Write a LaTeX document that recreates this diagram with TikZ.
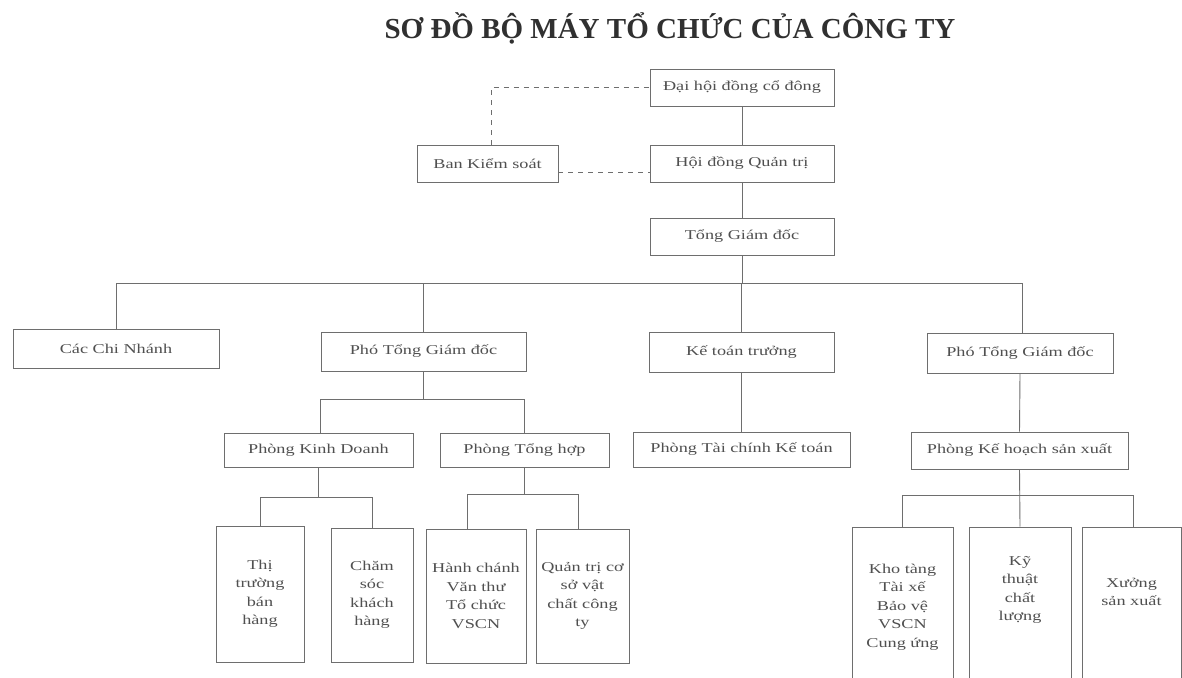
\documentclass[tikz,border=0pt]{standalone}
\usepackage{fontspec}
\setmainfont{Liberation Serif}
\newfontfamily\boxfont[FakeStretch=1.35]{Liberation Serif}
\definecolor{linec}{HTML}{6E6E6E}
\definecolor{textc}{HTML}{505050}
\definecolor{titlec}{HTML}{303030}
\begin{document}
\begin{tikzpicture}[x=1pt,y=-1pt,
  txt/.style={inner sep=0pt, align=center, text=textc, font=\boxfont\fontsize{13.5}{18.5}\selectfont},
  box/.style={txt, draw=linec, line width=0.9pt},
  conn/.style={draw=linec, line width=0.9pt},
  dconn/.style={conn, dash pattern=on 5pt off 5pt}]
\fill[white] (0,0) rectangle (1182,677);
\clip (0,0) rectangle (1182,677);

% title
\node[text=titlec, font=\bfseries\fontsize{29}{34}\selectfont, inner sep=0pt] (title) at (670,28) {SƠ ĐỒ BỘ MÁY TỔ CHỨC CỦA CÔNG TY};

% top levels
\node[box, minimum width=184pt, minimum height=37pt] (dhcd) at (742,87.5) {Đại hội đồng cổ đông};
\node[box, minimum width=184pt, minimum height=37pt] (hdqt) at (742,163.5) {Hội đồng Quản trị};
\node[box, minimum width=141pt, minimum height=37pt] (bks) at (487.5,163.5) {Ban Kiểm soát};
\node[box, minimum width=184pt, minimum height=37pt] (tgd) at (742,236.5) {Tổng Giám đốc};

% second level
\node[box, minimum width=206pt, minimum height=39pt] (ccn) at (116,348.5) {Các Chi Nhánh};
\node[box, minimum width=205pt, minimum height=39pt] (ptgd1) at (423.5,351.5) {Phó Tổng Giám đốc};
\node[box, minimum width=185pt, minimum height=40pt] (ktt) at (741.5,352) {Kế toán trưởng};
\node[box, minimum width=186pt, minimum height=40pt] (ptgd2) at (1020,353) {Phó Tổng Giám đốc};

% third level
\node[box, minimum width=189pt, minimum height=34pt] (pkd) at (318.5,450) {Phòng Kinh Doanh};
\node[box, minimum width=169pt, minimum height=34pt] (pth) at (524.5,450) {Phòng Tổng hợp};
\node[box, minimum width=217pt, minimum height=35pt] (ptc) at (741.5,449.5) {Phòng Tài chính Kế toán};
\node[box, minimum width=217pt, minimum height=37pt] (pkh) at (1019.5,450.5) {Phòng Kế hoạch sản xuất};

% bottom level, left
\node[box, minimum width=88pt, minimum height=136pt] (thi) at (260,594) {Thị\\trường\\bán\\hàng};
\node[box, minimum width=82pt, minimum height=134pt] (cs) at (372,595) {Chăm\\sóc\\khách\\hàng};
\node[box, minimum width=100pt, minimum height=134pt] (hc) at (476,596) {Hành chánh\\Văn thư\\Tổ chức\\VSCN};
\node[box, minimum width=93pt, minimum height=134pt] (qt) at (582.5,596) {Quản trị cơ\\sở vật\\chất công\\ty};

% bottom level, right (cut by the page edge)
\node[box, minimum width=101pt, minimum height=160pt] (kho) at (902.5,607) {Kho tàng\\Tài xế\\Bảo vệ\\VSCN\\Cung ứng};
\node[box, minimum width=102pt, minimum height=160pt] (kt) at (1020,607) {};
\node[txt] (kttext) at (1020,590) {Kỹ\\thuật\\chất\\lượng};
\node[box, minimum width=99pt, minimum height=160pt] (xuong) at (1131.5,607) {};
\node[txt] (xuongtext) at (1131.5,592) {Xưởng\\sản xuất};

% bus coordinates
\coordinate (b1) at (0,283);
\coordinate (b2) at (0,399);
\coordinate (b3) at (0,497);
\coordinate (b4) at (0,494);
\coordinate (b5) at (0,495);

% top connectors
\draw[conn] (dhcd.south) -- (hdqt.north);
\draw[conn] (hdqt.south) -- (tgd.north);
\draw[dconn] ([xshift=3.5pt]bks.north) |- (dhcd.west);
\draw[dconn] ([yshift=-8.5pt]bks.east) -- ([yshift=-8.5pt]hdqt.west);

% bus 1
\draw[conn] (tgd.south) -- (tgd.south |- b1);
\draw[conn] (ccn.north) |- ([xshift=2pt]ptgd2.north |- b1) -- ([xshift=2pt]ptgd2.north);
\draw[conn] (ptgd1.north) -- (ptgd1.north |- b1);
\draw[conn] (ktt.north) -- (ktt.north |- b1);

% bus 2
\draw[conn] (ptgd1.south) -- (ptgd1.south |- b2);
\draw[conn] ([xshift=2pt]pkd.north) |- (pth.north |- b2) -- (pth.north);

% Ke toan
\draw[conn] (ktt.south) -- (ptc.north);

% bus 3
\draw[conn] (pkd.south) -- (pkd.south |- b3);
\draw[conn] (thi.north) |- (cs.north |- b3) -- (cs.north);

% bus 4
\draw[conn] (pth.south) -- (pth.south |- b4);
\draw[conn] ([xshift=-9pt]hc.north) |- ([xshift=-4pt]qt.north |- b4) -- ([xshift=-4pt]qt.north);

% bus 5
\draw[conn] (ptgd2.south) -- (pkh.north);
\draw[conn] (pkh.south) -- (kt.north);
\draw[conn] (kho.north) |- ([xshift=1.5pt]xuong.north |- b5) -- ([xshift=1.5pt]xuong.north);
\end{tikzpicture}
\end{document}
